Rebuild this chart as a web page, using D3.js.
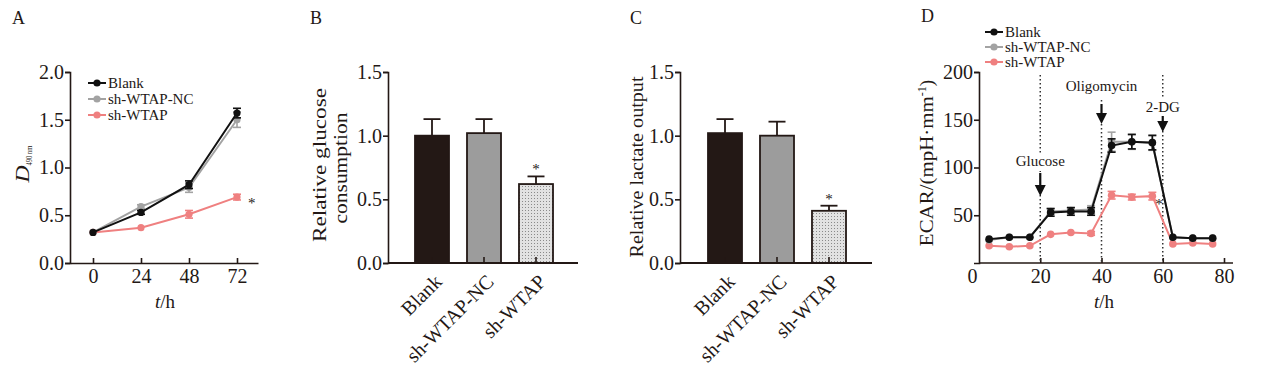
<!DOCTYPE html>
<html><head><meta charset="utf-8">
<script src="https://cdn.jsdelivr.net/npm/d3@7"></script>
<style>
body{margin:0;background:#fff;}
svg text{font-family:"Liberation Serif","Times New Roman",serif;fill:#231815;}
</style></head>
<body>
<svg id="c" width="1267" height="382"></svg>
<script>
// ---------- DATA ----------
const seriesNames = ["Blank","sh-WTAP-NC","sh-WTAP"];
const seriesColors = ["#111111","#a3a3a3","#ef8080"];

// Panel A
const hoursA = [0,24,48,72];
const blankA = [0.32,0.53,0.82,1.57];
const ncA    = [0.32,0.59,0.79,1.50];
const shA    = [0.32,0.37,0.51,0.69];
const blankAErr = [0.01,0.02,0.04,0.05];
const ncAErr    = [0.01,0.02,0.05,0.08];
const shAErr    = [0.01,0.01,0.04,0.03];
const ticksA = [0,0.5,1.0,1.5,2.0];

// Panel B
const barCats = ["Blank","sh-WTAP-NC","sh-WTAP"];
const glucose = [1.00,1.02,0.62];
const glucoseErr = [0.13,0.11,0.06];
// Panel C
const lactate = [1.02,1.00,0.41];
const lactateErr = [0.11,0.11,0.04];
const ticksBC = [0,0.5,1.0,1.5];

// Panel D
const timesD = [3.3,9.9,16.6,23.4,30.0,36.6,43.3,49.9,56.6,63.3,69.8,76.3];
const blankD = [25,27,27,53,54,54,123,127,126,27,26,26];
const ncD    = [24,27,27,54,55,56,127,127,126,27,26,26];
const shD    = [18,17,18,30,32,31,71,69,70,20,21,20];
const blankDErr = [1,1,1,4,4,4,7,7.5,7.5,1,1,1];
const ncDErr    = [1,1,1,3,3,4,10,8,8,1,1,1];
const shDErr    = [1,1,1,1.5,1,2,4,3,4,1,1,1];
const ticksDx = [0,20,40,60,80];
const ticksDy = [50,100,150,200];
const events = [{t:20,label:"Glucose"},{t:40,label:"Oligomycin"},{t:60,label:"2-DG"}];

// ---------- DRAW ----------
const svg = d3.select("#c");
const ink = "#231815";
const TICKFONT = "20px", LABFONT = "19px";

svg.append("defs").append("pattern").attr("id","dots").attr("width",3).attr("height",3)
  .attr("patternUnits","userSpaceOnUse")
  .call(p=>{p.append("rect").attr("width",3).attr("height",3).attr("fill","#e2e2e2");
            p.append("rect").attr("width",1).attr("height",1).attr("fill","#8a8a8a");});

function styleAxis(g){
  g.selectAll("path.domain").attr("stroke",ink).attr("stroke-width",1.6);
  g.selectAll(".tick line").attr("stroke",ink).attr("stroke-width",1.6);
  g.selectAll(".tick text").attr("font-family","Liberation Serif, serif").attr("font-size",TICKFONT).attr("fill",ink);
}
function panelLabel(x,y,t){svg.append("text").attr("x",x).attr("y",y).attr("font-size","18px").text(t);}
function vLabel(x,y,len,txt){
  svg.append("text").attr("transform",`translate(${x},${y}) rotate(-90)`).attr("text-anchor","middle")
    .attr("font-size",LABFONT).attr("textLength",len).attr("lengthAdjust","spacingAndGlyphs").text(txt);
}

function lineSeries(g,x,y,xs,vals,errs,color,r){
  g.append("path").datum(vals.map((v,i)=>[xs[i],v]))
    .attr("fill","none").attr("stroke",color).attr("stroke-width",2)
    .attr("d",d3.line().x(d=>x(d[0])).y(d=>y(d[1])));
  vals.forEach((v,i)=>{
    const cx=x(xs[i]), e=errs[i];
    if(y(v-e)-y(v+e)>3){
      g.append("line").attr("x1",cx).attr("x2",cx).attr("y1",y(v-e)).attr("y2",y(v+e)).attr("stroke",color).attr("stroke-width",1.6);
      [v-e,v+e].forEach(w=>g.append("line").attr("x1",cx-4).attr("x2",cx+4).attr("y1",y(w)).attr("y2",y(w)).attr("stroke",color).attr("stroke-width",1.6));
    }
    g.append("circle").attr("cx",cx).attr("cy",y(v)).attr("r",r).attr("fill",color);
  });
}
function legend(x0,y0,dy){
  seriesNames.forEach((n,i)=>{
    const y=y0+i*dy;
    svg.append("line").attr("x1",x0).attr("x2",x0+18).attr("y1",y).attr("y2",y).attr("stroke",seriesColors[i]).attr("stroke-width",2);
    svg.append("circle").attr("cx",x0+9).attr("cy",y).attr("r",3.6).attr("fill",seriesColors[i]);
    svg.append("text").attr("x",x0+20).attr("y",y+5).attr("font-size","15px").text(n);
  });
}

// ===== Panel A =====
panelLabel(12,24,"A");
const xA = d3.scaleLinear().domain([-11.5,82.5]).range([70,258]);
const yA = d3.scaleLinear().domain([0,2]).range([263,72]);
svg.append("g").attr("transform","translate(0,263)")
  .call(d3.axisBottom(xA).tickValues(hoursA).tickSizeOuter(0).tickSizeInner(-5).tickPadding(6)).call(styleAxis);
svg.append("g").attr("transform","translate(70,0)")
  .call(d3.axisLeft(yA).tickValues(ticksA).tickFormat(d3.format(".1f")).tickSizeOuter(0).tickSize(5).tickPadding(1)).call(styleAxis);
const gA = svg.append("g");
lineSeries(gA,xA,yA,hoursA,shA,shAErr,seriesColors[2],3.6);
lineSeries(gA,xA,yA,hoursA,ncA,ncAErr,seriesColors[1],3.6);
lineSeries(gA,xA,yA,hoursA,blankA,blankAErr,seriesColors[0],3.6);
legend(88,83,16);
svg.append("text").attr("x",xA(72)+11).attr("y",yA(shA[3])+11).attr("font-size","15px").text("*");
svg.append("text").attr("x",165).attr("y",308).attr("text-anchor","middle").attr("font-size",LABFONT)
  .call(t=>{t.append("tspan").attr("font-style","italic").text("t");t.append("tspan").text("/h");});
svg.append("text").attr("transform","translate(29,164) rotate(-90)").attr("text-anchor","middle")
  .call(t=>{t.append("tspan").attr("font-style","italic").attr("font-size","19px").attr("textLength",17).attr("lengthAdjust","spacingAndGlyphs").text("D");
            t.append("tspan").attr("font-size","9px").attr("dy","3").attr("textLength",20).attr("lengthAdjust","spacingAndGlyphs").text("490 nm");});

// ===== Bar panels =====
function barPanel(axisX, axisEnd, bandStart, vals, errs, labelFn){
  const y = d3.scaleLinear().domain([0,1.5]).range([263,72]);
  const x = d3.scaleBand().domain(barCats).range([bandStart-9, bandStart-9+156]).paddingInner(0.346).paddingOuter(0.173);
  const g = svg.append("g");
  const fills = ["#231815","#9c9c9c","url(#dots)"];
  barCats.forEach((c,i)=>{
    const cx = x(c)+x.bandwidth()/2, top=y(vals[i]+errs[i]);
    g.append("line").attr("x1",cx).attr("x2",cx).attr("y1",y(vals[i])).attr("y2",top).attr("stroke",ink).attr("stroke-width",1.8);
    g.append("line").attr("x1",cx-8.5).attr("x2",cx+8.5).attr("y1",top).attr("y2",top).attr("stroke",ink).attr("stroke-width",1.8);
    g.append("rect").attr("x",x(c)).attr("width",x.bandwidth()).attr("y",y(vals[i])).attr("height",y(0)-y(vals[i]))
      .attr("fill",fills[i]).attr("stroke",ink).attr("stroke-width",1.8);
  });
  const ax = svg.append("g").attr("transform","translate(0,263)")
    .call(d3.axisBottom(x).tickSizeInner(-6).tickSizeOuter(0).tickFormat("")).call(styleAxis);
  ax.select("path.domain").remove();
  svg.append("line").attr("x1",axisX).attr("x2",axisEnd).attr("y1",263).attr("y2",263).attr("stroke",ink).attr("stroke-width",1.8);
  svg.append("g").attr("transform",`translate(${axisX},0)`)
    .call(d3.axisLeft(y).tickValues(ticksBC).tickFormat(d3.format(".1f")).tickSizeOuter(0).tickSize(5).tickPadding(1)).call(styleAxis);
  barCats.forEach(c=>{
    const cx = x(c)+x.bandwidth()/2;
    svg.append("text").attr("transform",`translate(${cx+11},${283}) rotate(-45)`).attr("text-anchor","end")
      .attr("font-size","20px").text(c);
  });
  const c3 = x(barCats[2])+x.bandwidth()/2;
  svg.append("text").attr("x",c3).attr("y",y(vals[2]+errs[2])-2).attr("text-anchor","middle").attr("font-size","15px").text("*");
  labelFn();
}
panelLabel(310,24,"B");
barPanel(388,578,415,glucose,glucoseErr,()=>{
  vLabel(326,165,154,"Relative glucose");
  vLabel(347,168,111,"consumption");
});
panelLabel(630,24,"C");
barPanel(680,872,708,lactate,lactateErr,()=>{
  vLabel(643,167,181,"Relative lactate output");
});

// ===== Panel D =====
panelLabel(921,22,"D");
const xD = d3.scaleLinear().domain([0,80]).range([979,1224]);
const xDend = 1233;
const yD = d3.scaleLinear().domain([0,200]).range([263,72]);
const axD = svg.append("g").attr("transform","translate(0,263)")
  .call(d3.axisBottom(xD).tickValues(ticksDx).tickSizeOuter(0).tickSizeInner(-5).tickPadding(6)).call(styleAxis);
axD.select("path.domain").remove();
axD.selectAll(".tick").filter(d=>d===0).select("line").remove();
axD.selectAll(".tick").filter(d=>d===0).select("text").attr("x",-7);
svg.append("line").attr("x1",979).attr("x2",xDend).attr("y1",263).attr("y2",263).attr("stroke",ink).attr("stroke-width",1.6);
svg.append("g").attr("transform","translate(979,0)")
  .call(d3.axisLeft(yD).tickValues(ticksDy).tickSizeOuter(0).tickSize(5).tickPadding(1)).call(styleAxis);

// event lines & arrows
const evTop = {20:75,40:100,60:75};
const gEv = svg.append("g");
events.forEach(e=>{
  gEv.append("line").attr("x1",xD(e.t)).attr("x2",xD(e.t)).attr("y1",evTop[e.t]).attr("y2",263)
    .attr("stroke","#333").attr("stroke-width",1.5).attr("stroke-dasharray","1.5,2.5");
});
const evText = {20:{y:166,a0:173,a1:196},40:{y:91,a0:104,a1:124},60:{y:112,a0:116,a1:132}};
events.forEach(e=>{
  const cx=xD(e.t), s=evText[e.t];
  const bgRect = gEv.append("rect").attr("fill","#fff");
  const t = gEv.append("text").attr("x",cx).attr("y",s.y).attr("text-anchor","middle").attr("font-size","15px").text(e.label);
  const bb = t.node().getBBox();
  bgRect.attr("x",bb.x-2).attr("y",bb.y).attr("width",bb.width+4).attr("height",bb.height);
  gEv.append("rect").attr("x",cx-2).attr("y",s.a0-1).attr("width",4).attr("height",s.a1-s.a0).attr("fill","#fff");
  gEv.append("line").attr("x1",cx).attr("x2",cx).attr("y1",s.a0).attr("y2",s.a1-8).attr("stroke","#111").attr("stroke-width",2.2);
  gEv.append("path").attr("d",`M${cx-5.5},${s.a1-11} L${cx+5.5},${s.a1-11} L${cx},${s.a1} Z`).attr("fill","#111");
});
const gD = svg.append("g");
lineSeries(gD,xD,yD,timesD,shD,shDErr,seriesColors[2],3.8);
lineSeries(gD,xD,yD,timesD,ncD,ncDErr,seriesColors[1],3.8);
lineSeries(gD,xD,yD,timesD,blankD,blankDErr,seriesColors[0],3.8);
legend(985,32,15);
svg.append("text").attr("x",1159).attr("y",209).attr("text-anchor","middle").attr("font-size","15px").text("*");
svg.append("text").attr("x",1104).attr("y",308).attr("text-anchor","middle").attr("font-size",LABFONT)
  .call(t=>{t.append("tspan").attr("font-style","italic").text("t");t.append("tspan").text("/h");});
svg.append("text").attr("transform","translate(933,163) rotate(-90)").attr("text-anchor","middle").attr("font-size",LABFONT)
  .call(t=>{t.append("tspan").attr("textLength",150).attr("lengthAdjust","spacingAndGlyphs").text("ECAR/(mpH·mm");
            t.append("tspan").attr("font-size","12px").attr("dy","-7").text("-1");
            t.append("tspan").attr("dy","7").text(")");});
</script>
</body></html>
